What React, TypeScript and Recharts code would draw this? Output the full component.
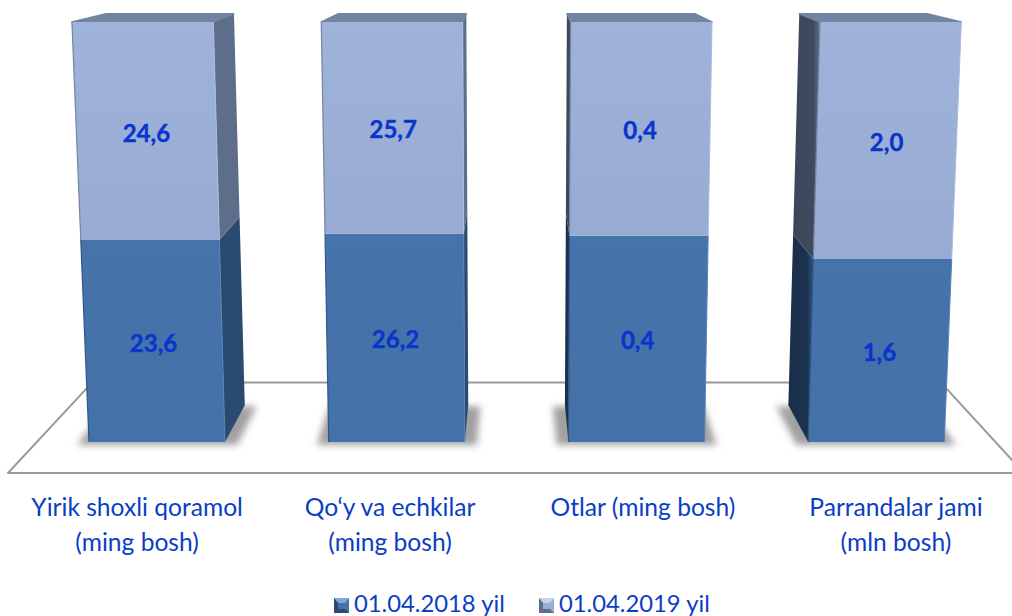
import React from 'react';
import { BarChart, Bar, XAxis, YAxis, Legend, LabelList, Customized } from 'recharts';

const categories = ['Yirik shoxli qoramol\n(ming bosh)', 'Qo‘y va echkilar\n(ming bosh)', 'Otlar (ming bosh)', 'Parrandalar jami\n(mln bosh)'];
const values2018 = [23.6, 26.2, 0.4, 1.6];
const values2019 = [24.6, 25.7, 0.4, 2.0];
const seriesNames = ['01.04.2018 yil', '01.04.2019 yil'];

const chartData = categories.map((name, i) => ({ name, a: values2018[i], b: values2019[i] }));

const FONT = 'Lato, "Open Sans", sans-serif';
const TEXT_COLOR = '#0a3ec4';
const LABEL_COLOR = '#0a35cc';

// perspective of the fake 3D scene
const FLOOR_Y = 442;
const FRONT_H = 420;
const CX = 516;
const TOP_SCALE = 1.04;
const K = 0.965;
const VX = 516;
const VY = -100;
const DEPTH = 0.068;

type Pt = { x: number; y: number };

const project = (x: number, y: number): Pt => {
  const f = (FLOOR_Y - y) / FRONT_H;
  const fp = (K * f) / (1 + (K - 1) * f);
  return { x: CX + (x - CX) * (1 + (TOP_SCALE - 1) * fp), y: FLOOR_Y - FRONT_H * fp };
};
const toBack = (p: Pt): Pt => ({ x: p.x + (VX - p.x) * DEPTH, y: p.y + (VY - p.y) * DEPTH });
const pts = (list: Pt[]) => list.map(p => `${p.x},${p.y}`).join(' ');

const COLORS = {
  lower: { front: 'url(#frontLower)', right: '#2b4a70', left: 'url(#sideLower)', edgeL: '#2f5688', edgeR: '#5583ba' },
  upper: { front: 'url(#frontUpper)', right: '#5e6e8a', left: 'url(#sideUpper)', edgeL: '#75849f', edgeR: '#a9bde2' }
};

const Block = (props: any) => {
  const { x, y, width, height, part } = props;
  const c = COLORS[part as 'lower' | 'upper'];
  const tl = project(x, y);
  const tr = project(x + width, y);
  const bl = project(x, y + height);
  const br = project(x + width, y + height);
  const tlb = toBack(tl);
  const trb = toBack(tr);
  const blb = toBack(bl);
  const brb = toBack(br);
  const rightSide = brb.x > br.x;
  const leftSide = blb.x < bl.x;
  // far back corner of the lid is rounded off in the original
  const lidLeft = { x: tlb.x + (rightSide ? 4 : 0), y: tlb.y };
  const lidRight = { x: trb.x - (leftSide ? 4 : 0), y: trb.y };
  return (
    <g>
      {part === 'lower' && (
        <polygon
          points={pts([
            { x: bl.x - 12, y: bl.y + 3 },
            { x: br.x + 12, y: br.y + 3 },
            { x: brb.x + 12, y: brb.y + 1 },
            { x: blb.x - 12, y: blb.y + 1 }
          ])}
          fill="#666"
          fillOpacity={0.62}
          filter="url(#floorShadow)"
        />
      )}
      {rightSide && <polygon points={pts([tr, trb, brb, br])} fill={c.right} />}
      {leftSide && <polygon points={pts([tl, tlb, blb, bl])} fill={c.left} />}
      {part === 'upper' && (
        <polygon points={pts([tl, tr, lidRight, lidLeft])} fill="#7384a3" stroke="#7384a3" strokeLinejoin="round" strokeWidth={1.5} />
      )}
      <polygon points={pts([tl, tr, br, bl])} fill={c.front} />
      <line x1={tl.x} y1={tl.y} x2={bl.x} y2={bl.y} stroke={c.edgeL} strokeWidth={1.2} />
      <line x1={tr.x} y1={tr.y} x2={br.x} y2={br.y} stroke={c.edgeR} strokeWidth={1} />
    </g>
  );
};

const ValueLabel = (props: any) => {
  const { x, y, width, height, value } = props;
  const top = project(x + width / 2, y);
  const bottom = project(x + width / 2, y + height);
  return (
    <text
      x={(top.x + bottom.x) / 2}
      y={(top.y + bottom.y) / 2 + 1}
      textAnchor="middle"
      dominantBaseline="central"
      fontFamily={FONT}
      fontWeight={700}
      fontSize={24}
      stroke={LABEL_COLOR}
      strokeWidth={0.4}
      fill={LABEL_COLOR}
    >
      {Number(value).toFixed(1).replace('.', ',')}
    </text>
  );
};

const CategoryTick = ({ x, y, payload }: any) => {
  const lines = String(payload.value).split('\n');
  const tx = CX + (x - CX) * 1.055;
  return (
    <text x={tx} y={y} textAnchor="middle" fontFamily={FONT} fontSize={24.6} fill={TEXT_COLOR}>
      {lines.map((line, i) => (
        <tspan key={i} x={tx} y={y + 66 + i * 35}>
          {line}
        </tspan>
      ))}
    </text>
  );
};

// drawn behind the bars, only a frame
const Floor = () => (
  <polygon
    points="8,473 1024,473 941,382.6 92,382.6"
    fill="none"
    stroke="#9a9a9a"
    strokeWidth={2}
    strokeLinejoin="round"
  />
);

const LegendMark = ({ base, light, dark }: { base: string; light: string; dark: string }) => (
  <svg width={15} height={15} style={{ display: 'block' }}>
    <rect width={15} height={15} fill={base} />
    <polygon points="0,0 15,0 11,5 4,5" fill={light} />
    <polygon points="0,0 4,5 4,11 0,15" fill={dark} />
    <polygon points="0,15 4,11 11,11 15,15" fill={dark} />
  </svg>
);

const ChartLegend = () => (
  <div style={{ position: 'relative', width: 1012, height: 32, fontFamily: FONT, fontSize: 23.8, color: TEXT_COLOR }}>
    {seriesNames.map((name, i) => (
      <React.Fragment key={name}>
        <div style={{ position: 'absolute', left: i === 0 ? 334 : 539, top: 14 }}>
          {i === 0 ? (
            <LegendMark base="#4472a8" light="#7fa6d6" dark="#2b4a70" />
          ) : (
            <LegendMark base="#9aaed4" light="#c5d2ea" dark="#5e6e8a" />
          )}
        </div>
        <div style={{ position: 'absolute', left: i === 0 ? 354 : 559, top: 6, lineHeight: '26px', whiteSpace: 'nowrap' }}>
          {name}
        </div>
      </React.Fragment>
    ))}
  </div>
);

export default function App() {
  return (
    <div style={{ position: 'absolute', left: 0, top: 0, width: 1012, height: 616, background: '#fff', overflow: 'hidden' }}>
      <BarChart
        width={1012}
        height={616}
        data={chartData}
        stackOffset="expand"
        barSize={136}
        margin={{ top: 22, right: 16, bottom: 0, left: 37 }}
      >
        <defs>
          <filter id="floorShadow" x="-30%" y="-50%" width="160%" height="200%">
            <feGaussianBlur stdDeviation="3.5" />
          </filter>
          <linearGradient id="frontUpper" x1="0" y1="0" x2="0" y2="1">
            <stop offset="0%" stopColor="#9fb3da" />
            <stop offset="100%" stopColor="#98acd3" />
          </linearGradient>
          <linearGradient id="frontLower" x1="0" y1="0" x2="0" y2="1">
            <stop offset="0%" stopColor="#4674aa" />
            <stop offset="100%" stopColor="#4472a8" />
          </linearGradient>
          <linearGradient id="sideUpper" x1="0" y1="0" x2="1" y2="0">
            <stop offset="0%" stopColor="#3b4659" />
            <stop offset="75%" stopColor="#3e4a5e" />
            <stop offset="100%" stopColor="#5f6e8c" />
          </linearGradient>
          <linearGradient id="sideLower" x1="0" y1="0" x2="1" y2="0">
            <stop offset="0%" stopColor="#192d47" />
            <stop offset="75%" stopColor="#1c3350" />
            <stop offset="100%" stopColor="#2e5283" />
          </linearGradient>
        </defs>
        <Customized component={Floor} />
        <XAxis dataKey="name" height={142} interval={0} axisLine={false} tickLine={false} tick={<CategoryTick />} />
        <YAxis hide domain={[0, 1]} />
        <Legend content={<ChartLegend />} wrapperStyle={{ left: 0, width: 1012, height: 32 }} />
        <Bar dataKey="a" stackId="s" isAnimationActive={false} shape={(p: any) => <Block {...p} part="lower" />}>
          <LabelList dataKey="a" content={<ValueLabel />} />
        </Bar>
        <Bar dataKey="b" stackId="s" isAnimationActive={false} shape={(p: any) => <Block {...p} part="upper" />}>
          <LabelList dataKey="b" content={<ValueLabel />} />
        </Bar>
      </BarChart>
    </div>
  );
}
